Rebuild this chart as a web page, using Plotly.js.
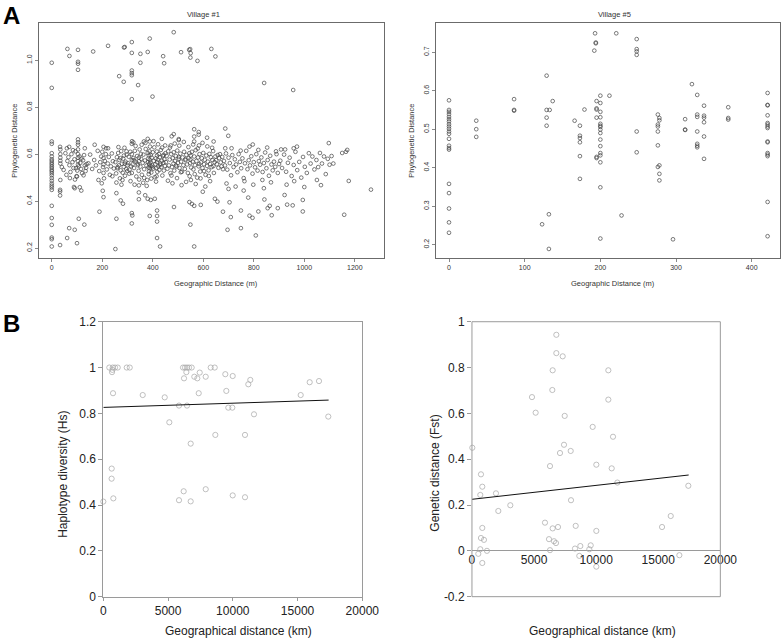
<!DOCTYPE html>
<html>
<head>
<meta charset="utf-8">
<script src="https://cdn.plot.ly/plotly-3.0.1.min.js"></script>
<style>html,body{margin:0;padding:0;background:#fff;}#chart{width:784px;height:640px;}</style>
</head>
<body>
<div id="chart"></div>
<script>
// ---------- Panel A, Village #1 (geographic distance in m, phylogenetic distance) ----------
const village1HighX = [0,0,62,70,104,104,104,104,164,223,267,286,289,285,317,317,317,317,317,317,342,351,351,380,388,399,441,445,483,512,544,548,550,549,577,632,648,841,956];
const village1HighY = [0.989,0.882,1.048,1.018,1.044,0.993,0.985,0.959,1.037,1.061,0.932,1.054,1.056,0.908,1.077,1.031,0.956,0.945,0.936,0.834,0.894,1.027,0.989,1.035,1.092,0.845,1.017,0.987,1.119,1.034,1.044,1.047,1.03,1.011,0.997,1.048,1.016,0.903,0.873];
const village1TopX = [0,0,33,69,104,104,104,131,205,223,317,323,365,380,388,436,475,483,503,503,471,564,564,582,582,564,583,615,641,687,699,687,796,908,924,958,971,1097,1170];
const village1TopY = [0.654,0.644,0.631,0.631,0.663,0.65,0.64,0.625,0.631,0.625,0.644,0.65,0.654,0.665,0.654,0.665,0.676,0.685,0.664,0.66,0.637,0.706,0.675,0.694,0.683,0.654,0.637,0.67,0.654,0.709,0.678,0.625,0.641,0.62,0.62,0.625,0.632,0.647,0.618];
const village1LowX = [0,0,0,0,0,0,33,33,33,33,61,69,91,100,107,129,91,111,117,189,202,205,256,252,256,273,282,317,319,317,345,345,345,370,380,392,408,388,417,417,417,417,429,484,549,564,545,555,564,590,598,646,656,678,704,709,696,749,749,783,795,778,808,818,842,855,863,871,895,922,932,954,994,994,1066,1158,1176,1264];
const village1LowY = [0.38,0.328,0.299,0.245,0.238,0.207,0.213,0.448,0.441,0.424,0.243,0.285,0.278,0.221,0.325,0.3,0.455,0.459,0.445,0.355,0.444,0.417,0.325,0.196,0.434,0.403,0.389,0.349,0.339,0.305,0.408,0.437,0.467,0.425,0.41,0.405,0.41,0.337,0.36,0.337,0.313,0.243,0.207,0.375,0.3,0.207,0.396,0.388,0.38,0.384,0.44,0.41,0.398,0.355,0.395,0.332,0.278,0.285,0.36,0.338,0.329,0.415,0.254,0.356,0.407,0.37,0.38,0.34,0.37,0.426,0.385,0.382,0.405,0.356,0.468,0.342,0.486,0.449];
const village1ColumnX = [0,0,0,0,0,0,0,0,0,0,0,0,0,0,0,0,0,0,34,34,34,34,34,34];
const village1ColumnY = [0.604,0.59,0.578,0.571,0.563,0.556,0.548,0.541,0.533,0.527,0.519,0.51,0.498,0.487,0.475,0.466,0.458,0.448,0.62,0.6,0.585,0.572,0.56,0.49];
const village1CoreX = [
 40,47,54,58,62,66,70,74,78,82,86,90,94,98,101,104,104,104,104,104,107,110,113,116,120,124,128,131,134,138,60,72,88,96,118,126,136,100,92,84,
 145,152,160,168,175,182,188,192,196,200,203,205,205,205,207,210,214,218,222,226,230,234,238,242,246,170,185,198,215,240,
 252,255,258,260,263,266,268,270,273,275,278,280,283,285,288,290,292,295,297,300,256,264,272,281,289,296,261,276,286,299,
 302,305,308,311,314,317,317,317,320,323,326,329,332,335,338,341,344,345,345,348,351,354,357,360,363,366,369,372,375,378,
 380,381,382,383,384,385,386,387,388,388,390,392,394,396,398,400,402,404,406,408,410,412,414,416,417,417,418,420,422,424,
 426,428,430,432,434,436,438,440,442,444,446,448,450,312,328,346,362,376,394,413,332,356,371,389,403,421,437,449,318,366,
 307,339,353,384,398,415,429,443,325,391,
 452,455,458,461,464,467,470,473,476,479,482,483,485,488,491,494,497,500,503,503,506,509,512,515,518,521,524,527,530,533,
 536,539,542,545,548,549,550,552,555,558,561,564,567,570,573,576,579,582,585,588,591,594,597,600,603,606,609,612,615,618,
 621,624,627,630,633,636,639,642,645,648,460,478,496,514,532,551,570,589,608,627,468,487,505,523,541,560,578,597,616,635,
 474,492,511,529,546,566,584,603,622,640,651,654,657,660,663,666,669,672,675,678,
 682,686,690,695,700,705,710,715,720,725,730,735,740,745,750,755,760,765,770,775,780,785,790,795,800,805,810,815,820,825,
 830,835,840,845,850,855,860,865,870,875,880,885,890,895,900,692,728,763,798,834,868,712,748,783,818,853,888,700,760,840,
 905,912,920,928,935,942,950,958,965,972,980,988,995,1002,1010,1018,1025,1032,1040,1048,1055,1062,1070,1078,1085,1093,1100,1108,1115,930,
 960,1000,1050,1150,1165];
const village1CoreY = [
 0.545,0.533,0.604,0.512,0.571,0.587,0.553,0.524,0.6,0.566,0.541,0.578,0.612,0.506,0.53,0.62,0.6,0.585,0.57,0.555,0.548,0.59,0.563,0.537,0.519,0.574,0.596,0.552,0.528,0.558,0.625,0.498,0.46,0.54,0.581,0.51,0.542,0.505,0.492,0.617,
 0.561,0.598,0.537,0.575,0.552,0.614,0.528,0.566,0.59,0.61,0.545,0.583,0.556,0.52,0.497,0.571,0.6,0.535,0.56,0.588,0.512,0.548,0.603,0.57,0.539,0.64,0.49,0.476,0.625,0.506,
 0.566,0.518,0.587,0.54,0.605,0.552,0.575,0.497,0.531,0.613,0.559,0.49,0.581,0.546,0.627,0.508,0.568,0.536,0.598,0.553,0.479,0.63,0.583,0.521,0.56,0.612,0.545,0.47,0.594,0.528,
 0.562,0.589,0.534,0.61,0.548,0.575,0.52,0.6,0.556,0.583,0.541,0.614,0.568,0.505,0.592,0.553,0.529,0.57,0.585,0.62,0.547,0.58,0.512,0.563,0.598,0.536,0.573,0.622,0.551,0.49,
 0.605,0.566,0.581,0.544,0.595,0.527,0.558,0.612,0.576,0.54,0.565,0.596,0.522,0.585,0.552,0.608,0.538,0.571,0.629,0.502,0.557,0.582,0.541,0.611,0.566,0.594,0.525,0.576,0.548,0.6,
 0.533,0.587,0.56,0.618,0.545,0.572,0.509,0.592,0.563,0.53,0.578,0.55,0.604,0.485,0.47,0.492,0.478,0.465,0.496,0.483,0.635,0.64,0.648,0.632,0.655,0.642,0.628,0.637,0.655,0.499,
 0.517,0.56,0.601,0.515,0.544,0.506,0.554,0.597,0.574,0.55,
 0.566,0.593,0.538,0.612,0.552,0.577,0.519,0.6,0.545,0.583,0.56,0.608,0.53,0.571,0.592,0.547,0.615,0.563,0.588,0.58,0.541,0.602,0.568,0.525,0.586,0.553,0.61,0.537,0.574,0.597,
 0.556,0.52,0.583,0.604,0.562,0.577,0.594,0.543,0.61,0.568,0.535,0.59,0.553,0.617,0.571,0.5,0.586,0.548,0.6,0.526,0.565,0.583,0.541,0.605,0.557,0.576,0.512,0.594,0.55,0.568,
 0.531,0.601,0.558,0.587,0.545,0.575,0.613,0.52,0.566,0.59,0.487,0.476,0.498,0.468,0.482,0.49,0.473,0.497,0.462,0.485,0.628,0.645,0.636,0.652,0.63,0.641,0.624,0.648,0.633,0.627,
 0.509,0.552,0.523,0.578,0.506,0.515,0.558,0.528,0.507,0.549,0.574,0.557,0.596,0.542,0.583,0.6,0.565,0.548,0.588,0.536,
 0.571,0.552,0.603,0.534,0.585,0.562,0.51,0.596,0.545,0.578,0.556,0.523,0.6,0.567,0.54,0.582,0.498,0.561,0.614,0.536,0.574,0.552,0.591,0.517,0.566,0.544,0.6,0.53,0.57,0.555,
 0.586,0.524,0.562,0.607,0.54,0.575,0.508,0.593,0.556,0.531,0.568,0.546,0.6,0.52,0.558,0.475,0.462,0.485,0.47,0.49,0.48,0.625,0.615,0.632,0.618,0.628,0.612,0.452,0.445,0.455,
 0.572,0.541,0.598,0.525,0.563,0.585,0.507,0.554,0.61,0.532,0.567,0.5,0.588,0.546,0.52,0.604,0.56,0.59,0.535,0.575,0.545,0.605,0.56,0.59,0.515,0.58,0.555,0.592,0.56,0.47,
 0.485,0.46,0.49,0.605,0.61];

// ---------- Panel A, Village #5 ----------
const village5X = [0,0,0,0,0,0,0,0,0,0,0,0,0,0,0,0,0,0,0,0,0,
 36,36,36,86,86,86,129,129,129,129,133,137,123,132,132,
 166,179,173,173,173,173,173,173,193,194,194,192,195,195,195,195,195,195,
 200,200,200,200,200,200,200,200,200,200,200,200,200,200,200,200,
 212,221,228,248,248,248,248,248,248,
 276,276,276,276,276,276,278,278,278,278,278,296,312,312,312,321,
 328,328,328,328,328,328,328,337,337,337,337,337,337,369,369,369,
 421,421,421,421,421,421,421,421,421,421,421,421,421,421,421];
const village5Y = [0.575,0.55,0.545,0.539,0.532,0.526,0.52,0.513,0.507,0.501,0.494,0.488,0.475,0.457,0.451,0.447,0.358,0.334,0.294,0.258,0.231,
 0.522,0.5,0.48,0.578,0.55,0.548,0.639,0.55,0.53,0.509,0.55,0.573,0.253,0.279,0.189,
 0.522,0.551,0.509,0.483,0.477,0.466,0.43,0.371,0.749,0.725,0.723,0.704,0.573,0.554,0.551,0.53,0.428,0.425,
 0.587,0.568,0.545,0.531,0.514,0.509,0.506,0.499,0.49,0.473,0.456,0.438,0.432,0.414,0.349,0.216,
 0.587,0.749,0.276,0.734,0.708,0.702,0.693,0.494,0.44,
 0.538,0.512,0.507,0.494,0.458,0.402,0.529,0.523,0.406,0.384,0.367,0.214,0.526,0.499,0.498,0.617,
 0.589,0.538,0.532,0.494,0.462,0.457,0.453,0.561,0.535,0.53,0.518,0.481,0.423,0.557,0.529,0.525,
 0.594,0.563,0.562,0.536,0.516,0.512,0.507,0.503,0.468,0.466,0.438,0.434,0.43,0.311,0.222];

// ---------- Panel B, haplotype diversity ----------
const hsX = [463,726,903,1112,672,700,749,1807,2039,3043,4741,5097,5845,6155,6309,6463,6618,6823,6232,6412,6463,6746,7027,7259,7444,7367,7907,8293,8602,8650,9421,9498,9653,9962,9992,10942,11197,11351,11637,15243,15938,16656,17375,646,640,0,773,5845,6206,6746,7907,9992,10942];
const hsY = [1.0,1.0,1.0,1.0,0.98,0.99,0.888,1.0,1.0,0.88,0.87,0.761,0.834,1.0,1.0,1.0,1.0,1.0,0.953,0.98,0.834,0.668,0.96,0.953,0.978,0.888,0.96,1.0,1.0,0.706,0.971,0.898,0.825,0.825,0.963,0.706,0.927,0.946,0.796,0.88,0.936,0.941,0.786,0.559,0.515,0.415,0.429,0.421,0.46,0.416,0.469,0.442,0.434];
const hsTrendX = [0, 17400];
const hsTrendY = [0.826, 0.858];

// ---------- Panel B, genetic distance ----------
const fstX = [6793,6793,7306,6498,6471,4833,5128,7467,10981,10981,9720,11358,7411,7088,7950,6283,10014,11252,27,725,832,671,1933,3088,2121,7975,11707,17423,16006,15305,5880,8353,6927,6498,10014,832,725,966,6203,6605,6766,6283,8724,8297,9561,9449,671,1208,510,832,8643,10014,16700];
const fstY = [0.943,0.863,0.849,0.788,0.702,0.671,0.603,0.589,0.788,0.66,0.541,0.498,0.463,0.427,0.436,0.37,0.376,0.36,0.45,0.334,0.28,0.244,0.251,0.199,0.174,0.221,0.298,0.284,0.152,0.104,0.123,0.109,0.104,0.098,0.087,0.1,0.056,0.048,0.051,0.042,0.034,0.003,0.021,0.01,0.024,0.007,0.007,0.0,-0.013,-0.053,-0.022,-0.069,-0.019];
const fstTrendX = [0, 17450];
const fstTrendY = [0.225, 0.331];
const fstTickVals = [-0.2, 0, 0.2, 0.4, 0.6, 0.8, 1];
const fstTickText = ['-0.2', '0', '0.2', '0.4', '0.6', '0.8', '1'];

const village1X = village1HighX.concat(village1TopX, village1LowX, village1ColumnX, village1CoreX);
const village1Y = village1HighY.concat(village1TopY, village1LowY, village1ColumnY, village1CoreY);

const FONT = 'Liberation Sans, Arial, Helvetica, sans-serif';
const rMarker = {symbol: 'circle-open', size: 3.7, color: '#444', line: {width: 0.7}};
const bMarker = {symbol: 'circle-open', size: 5.2, color: '#ababab', line: {width: 0.75}};

const traces = [
  {x: village1X, y: village1Y, xaxis: 'x', yaxis: 'y', type: 'scatter', mode: 'markers', marker: rMarker, cliponaxis: false, hoverinfo: 'skip'},
  {x: village5X, y: village5Y, xaxis: 'x2', yaxis: 'y2', type: 'scatter', mode: 'markers', marker: rMarker, cliponaxis: false, hoverinfo: 'skip'},
  {x: hsX, y: hsY, xaxis: 'x3', yaxis: 'y3', type: 'scatter', mode: 'markers', marker: bMarker, cliponaxis: false},
  {x: hsTrendX, y: hsTrendY, xaxis: 'x3', yaxis: 'y3', type: 'scatter', mode: 'lines', line: {color: '#111', width: 1}},
  {x: fstX, y: fstY, xaxis: 'x4', yaxis: 'y4', type: 'scatter', mode: 'markers', marker: bMarker, cliponaxis: false},
  {x: fstTrendX, y: fstTrendY, xaxis: 'x4', yaxis: 'y4', type: 'scatter', mode: 'lines', line: {color: '#111', width: 1}}
];

function rAxis(extra) {
  return Object.assign({
    showline: true, mirror: true, linecolor: '#6b6b6b', linewidth: 1,
    ticks: 'outside', ticklen: 3, tickwidth: 0.8, tickcolor: '#6b6b6b',
    showgrid: false, zeroline: false, tickfont: {family: FONT, size: 7, color: '#333'}
  }, extra);
}
function bAxis(extra) {
  return Object.assign({
    showline: true, mirror: true, linecolor: '#9a9a9a', linewidth: 1,
    ticks: 'outside', ticklen: 4, tickwidth: 1, tickcolor: '#9a9a9a',
    showgrid: false, zeroline: false, tickformat: 'd', tickfont: {family: FONT, size: 12, color: '#222'}
  }, extra);
}

const layout = {
  width: 784, height: 640,
  margin: {l: 0, r: 0, t: 0, b: 0},
  paper_bgcolor: '#fff', plot_bgcolor: '#fff',
  showlegend: false,
  font: {family: FONT, color: '#222'},
  xaxis: rAxis({domain: [0.0497, 0.4898], anchor: 'y', range: [-50.6, 1315.6], tickmode: 'linear', tick0: 0, dtick: 200}),
  yaxis: rAxis({domain: [0.5969, 0.9636], anchor: 'x', range: [0.158, 1.157], tickmode: 'linear', tick0: 0.2, dtick: 0.2, tickformat: '.1f', tickangle: -90}),
  xaxis2: rAxis({domain: [0.5565, 0.9953], anchor: 'y2', range: [-16.8, 437.8], tickmode: 'linear', tick0: 0, dtick: 100}),
  yaxis2: rAxis({domain: [0.5969, 0.9636], anchor: 'x2', range: [0.1655, 0.775], tickmode: 'linear', tick0: 0.2, dtick: 0.1, tickformat: '.1f', tickangle: -90}),
  xaxis3: bAxis({domain: [0.1318, 0.4621], anchor: 'y3', range: [0, 20000], tickmode: 'linear', tick0: 0, dtick: 5000, ticklen: 3}),
  yaxis3: bAxis({domain: [0.0677, 0.4973], anchor: 'x3', range: [0, 1.2], tickmode: 'linear', tick0: 0, dtick: 0.2, tickformat: ''}),
  xaxis4: bAxis({domain: [0.602, 0.9188], anchor: 'free', position: 0.139, range: [0, 20000], tickmode: 'linear', tick0: 0, dtick: 5000, showline: false, mirror: false, ticks: ''}),
  yaxis4: bAxis({domain: [0.0677, 0.4973], anchor: 'x4', range: [-0.2, 1], tickmode: 'array', tickvals: fstTickVals, ticktext: fstTickText, tickformat: '', showline: false, mirror: false, zeroline: true, zerolinecolor: '#9a9a9a', zerolinewidth: 1}),
  shapes: [
    {type: 'rect', xref: 'x4 domain', yref: 'y4 domain', x0: 0, x1: 1, y0: 0, y1: 1, line: {color: '#9a9a9a', width: 1}, fillcolor: 'rgba(0,0,0,0)', layer: 'above'}
  ],
  annotations: [
    {text: '<b>A</b>', x: 0.0147, y: 0.9758, xref: 'paper', yref: 'paper', xanchor: 'center', yanchor: 'middle', showarrow: false, font: {family: FONT, size: 24, color: '#000'}},
    {text: '<b>B</b>', x: 0.0147, y: 0.4945, xref: 'paper', yref: 'paper', xanchor: 'center', yanchor: 'middle', showarrow: false, font: {family: FONT, size: 24, color: '#000'}},
    {text: 'Village #1', x: 0.2602, y: 0.978, xref: 'paper', yref: 'paper', xanchor: 'center', yanchor: 'middle', showarrow: false, font: {family: FONT, size: 7.5, color: '#333'}},
    {text: 'Village #5', x: 0.7844, y: 0.978, xref: 'paper', yref: 'paper', xanchor: 'center', yanchor: 'middle', showarrow: false, font: {family: FONT, size: 7.5, color: '#333'}},
    {text: 'Geographic Distance (m)', x: 0.2761, y: 0.5578, xref: 'paper', yref: 'paper', xanchor: 'center', yanchor: 'middle', showarrow: false, font: {family: FONT, size: 7.5, color: '#333'}},
    {text: 'Geographic Distance (m)', x: 0.7825, y: 0.5578, xref: 'paper', yref: 'paper', xanchor: 'center', yanchor: 'middle', showarrow: false, font: {family: FONT, size: 7.5, color: '#333'}},
    {text: 'Phylogenetic Distance', x: 0.0191, y: 0.780, xref: 'paper', yref: 'paper', xanchor: 'center', yanchor: 'middle', textangle: -90, showarrow: false, font: {family: FONT, size: 7.5, color: '#333'}},
    {text: 'Phylogenetic Distance', x: 0.5255, y: 0.780, xref: 'paper', yref: 'paper', xanchor: 'center', yanchor: 'middle', textangle: -90, showarrow: false, font: {family: FONT, size: 7.5, color: '#333'}},
    {text: 'Geographical distance (km)', x: 0.304, y: 0.0144, xref: 'paper', yref: 'paper', xanchor: 'center', yanchor: 'middle', showarrow: false, font: {family: FONT, size: 12, color: '#222'}},
    {text: 'Geographical distance (km)', x: 0.7683, y: 0.0144, xref: 'paper', yref: 'paper', xanchor: 'center', yanchor: 'middle', showarrow: false, font: {family: FONT, size: 12, color: '#222'}},
    {text: 'Haplotype diversity (Hs)', x: 0.0808, y: 0.2586, xref: 'paper', yref: 'paper', xanchor: 'center', yanchor: 'middle', textangle: -90, showarrow: false, font: {family: FONT, size: 12, color: '#222'}},
    {text: 'Genetic distance (Fst)', x: 0.5553, y: 0.2604, xref: 'paper', yref: 'paper', xanchor: 'center', yanchor: 'middle', textangle: -90, showarrow: false, font: {family: FONT, size: 12, color: '#222'}}
  ]
};

Plotly.newPlot('chart', traces, layout, {staticPlot: true, displayModeBar: false});
</script>
</body>
</html>
